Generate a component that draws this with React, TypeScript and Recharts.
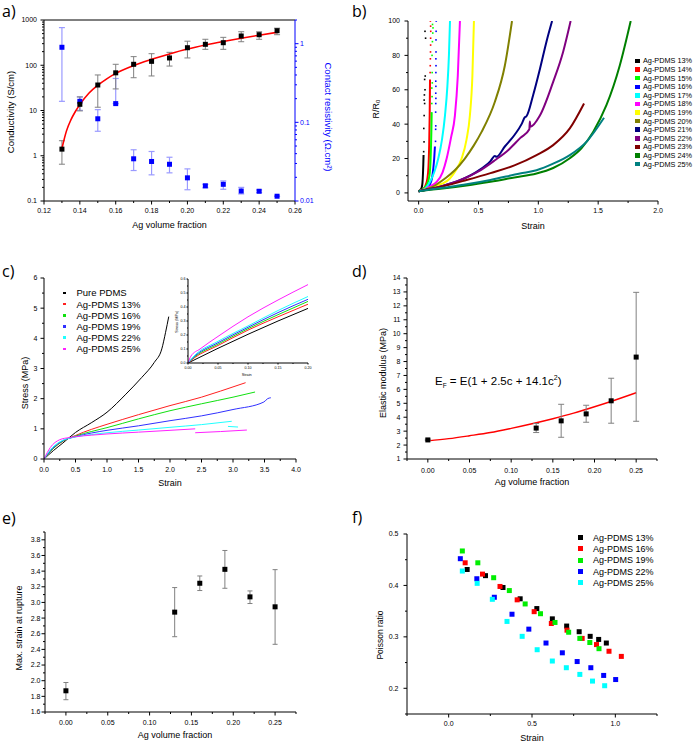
import React from 'react'
import { ComposedChart, LineChart, Line, Scatter, XAxis, YAxis, ErrorBar, ReferenceLine, Legend } from 'recharts'

const FONT = '"Liberation Sans", Arial, sans-serif'
const LETTER_FONT = '"Open Sans", "Liberation Sans", sans-serif'

// a) conductivity and contact resistivity vs Ag volume fraction
const aFraction = [0.13, 0.14, 0.15, 0.16, 0.17, 0.18, 0.19, 0.2, 0.21, 0.22, 0.23, 0.24, 0.25]
const aConductivity = [1.4, 13.7, 36.6, 68, 105, 122, 145, 244, 290, 315, 443, 473, 580]
const aCondLow = [0.65, 9.8, 11.8, 30, 53, 58, 96, 145, 225, 225, 331, 375, 473]
const aCondHigh = [2.15, 20, 61, 105, 155, 180, 193, 340, 375, 414, 550, 550, 660]
const aResistivity = [0.9, 0.185, 0.111, 0.173, 0.0344, 0.0318, 0.0293, 0.0197, 0.0156, 0.0163, 0.0134, 0.0133, 0.0115]
const aResLow = [0.185, 0.142, 0.077, 0.173, 0.0244, 0.0215, 0.0228, 0.0139, 0.0147, 0.0141, 0.0123, 0.0128, 0.0115]
const aResHigh = [1.6, 0.21, 0.145, 0.361, 0.0448, 0.0426, 0.036, 0.0256, 0.0163, 0.018, 0.0149, 0.0138, 0.0115]
const aFitFraction = [0.13, 0.1325, 0.135, 0.1375, 0.14, 0.145, 0.15, 0.155, 0.16, 0.17, 0.18, 0.19, 0.2, 0.21, 0.22, 0.23, 0.24, 0.25]
const aFitConductivity = [1.45, 3.5, 6.2, 9.5, 13.5, 24, 36, 50, 66, 99, 135, 178, 228, 280, 335, 395, 462, 535]

// b) R/R0 vs strain
const bLabels = ['Ag-PDMS 13%', 'Ag-PDMS 14%', 'Ag-PDMS 15%', 'Ag-PDMS 16%', 'Ag-PDMS 17%', 'Ag-PDMS 18%', 'Ag-PDMS 19%', 'Ag-PDMS 20%', 'Ag-PDMS 21%', 'Ag-PDMS 22%', 'Ag-PDMS 23%', 'Ag-PDMS 24%', 'Ag-PDMS 25%']
const bColors = ['#000000', '#ff0000', '#00ff00', '#0000ff', '#00ffff', '#ff00ff', '#ffff00', '#808000', '#000080', '#800080', '#800000', '#008000', '#008080']
const b13 = [[0, 1], [0.015, 1.8], [0.025, 3], [0.032, 6], [0.036, 11], [0.039, 17], [0.041, 22]]
const b14 = [[0, 1], [0.03, 2], [0.055, 4], [0.072, 8], [0.082, 15], [0.088, 28], [0.092, 45], [0.095, 66]]
const b15 = [[0, 1], [0.04, 2.5], [0.07, 5], [0.09, 10], [0.1, 20], [0.106, 35], [0.109, 47]]
const b16 = [[0, 1], [0.05, 2.2], [0.09, 4.5], [0.11, 8], [0.122, 14], [0.13, 20], [0.136, 27]]
const b17 = [[0, 1], [0.05, 2.3], [0.094, 6.4], [0.13, 12], [0.164, 20], [0.195, 31], [0.22, 45], [0.24, 62], [0.253, 80], [0.262, 100]]
const b18 = [[0, 1], [0.05, 2], [0.1, 4], [0.15, 6.4], [0.2, 12], [0.234, 20], [0.27, 32], [0.303, 45], [0.327, 68], [0.345, 100]]
const b19 = [[0, 1], [0.1, 3], [0.2, 5.5], [0.261, 8.4], [0.31, 13], [0.359, 20], [0.4, 31], [0.428, 45], [0.449, 68], [0.462, 100]]
const b20 = [[0, 1], [0.1, 3], [0.22, 8.4], [0.3, 13], [0.386, 20], [0.46, 27.5], [0.526, 35.5], [0.637, 53], [0.72, 74], [0.78, 100]]
const b21 = [[0, 1], [0.2, 4], [0.35, 7.5], [0.5, 13], [0.6, 18.5], [0.637, 21.5], [0.65, 21], [0.72, 27], [0.804, 34], [0.86, 40], [0.887, 44], [0.9, 44.5], [0.957, 57], [1.013, 72], [1.068, 88], [1.115, 100]]
const b22 = [[0, 1], [0.2, 4], [0.35, 7.5], [0.5, 12.5], [0.637, 19], [0.75, 25], [0.85, 32], [0.925, 37], [0.929, 41.5], [0.934, 38.5], [1.013, 45], [1.124, 64.6], [1.207, 82], [1.27, 100]]
const b23 = [[0, 1], [0.2, 3.8], [0.4, 7.5], [0.6, 11.5], [0.8, 16], [0.985, 22], [1.124, 27.8], [1.263, 37.5], [1.382, 52]]
const b24 = [[0, 1], [0.2, 2.5], [0.4, 4.3], [0.6, 6.5], [0.8, 9], [0.985, 11.3], [1.124, 14.5], [1.263, 20.2], [1.36, 26], [1.458, 35.5], [1.569, 51], [1.68, 74], [1.772, 100]]
const b25 = [[0, 1], [0.2, 3], [0.4, 5], [0.6, 7.5], [0.846, 11.3], [0.985, 13.2], [1.124, 17], [1.263, 22], [1.402, 29.7], [1.549, 43.7]]
const bCurves = [b13, b14, b15, b16, b17, b18, b19, b20, b21, b22, b23, b24, b25]
// scattered readings above the continuous part (13-16 %)
const bDots13 = [[0.042, 24], [0.045, 29.7], [0.043, 37.5], [0.046, 45], [0.05, 52], [0.046, 54], [0.048, 57], [0.053, 60], [0.05, 66], [0.055, 68], [0.058, 90], [0.053, 94]]
const bDots14 = [[0.096, 70], [0.097, 74], [0.098, 78], [0.099, 82], [0.1, 86], [0.1, 90], [0.101, 94], [0.1, 97], [0.098, 100]]
const bDots15 = [[0.11, 52], [0.112, 56], [0.11, 61], [0.114, 64], [0.113, 70], [0.112, 80], [0.115, 88], [0.118, 93], [0.12, 96], [0.116, 98]]
const bDots16 = [[0.141, 30], [0.142, 37], [0.143, 39], [0.142, 47], [0.143, 52], [0.144, 55], [0.143, 58], [0.144, 62], [0.143, 65], [0.144, 70], [0.145, 74], [0.144, 78], [0.145, 82], [0.145, 89], [0.146, 94], [0.147, 100]]
const bDots = [bDots13, bDots14, bDots15, bDots16]

// c) stress-strain
const cLabels = ['Pure PDMS', 'Ag-PDMS 13%', 'Ag-PDMS 16%', 'Ag-PDMS 19%', 'Ag-PDMS 22%', 'Ag-PDMS 25%']
const cColors = ['#000000', '#ff2020', '#10e010', '#3030ff', '#20ffff', '#ff20ff']
const cPure = [[0, 0], [0.15, 0.28], [0.3, 0.53], [0.5, 0.88], [0.75, 1.2], [1, 1.55], [1.3, 2.15], [1.55, 2.7], [1.75, 3.2], [1.87, 3.65], [1.93, 4.2], [1.98, 4.72]]
const c13 = [[0, 0], [0.1, 0.25], [0.25, 0.52], [0.5, 0.78], [0.75, 0.98], [1, 1.15], [1.5, 1.47], [2, 1.77], [2.5, 2.05], [2.8, 2.25], [3.2, 2.53]]
const c16 = [[0, 0], [0.1, 0.25], [0.25, 0.53], [0.5, 0.76], [0.75, 0.91], [1, 1.04], [1.5, 1.33], [2, 1.6], [2.5, 1.83], [3, 2.05], [3.35, 2.22]]
const c19 = [[0, 0], [0.1, 0.27], [0.25, 0.55], [0.5, 0.74], [0.75, 0.86], [1, 0.95], [1.5, 1.1], [2, 1.27], [2.5, 1.43], [3, 1.64], [3.49, 1.89], [3.55, 2], [3.6, 2.03]]
const c22 = [[0, 0], [0.1, 0.3], [0.25, 0.57], [0.5, 0.73], [0.75, 0.81], [1, 0.87], [1.5, 0.96], [2, 1.05], [2.5, 1.14], [2.98, 1.25]]
const c25 = [[0, 0], [0.1, 0.38], [0.25, 0.64], [0.4, 0.71], [0.5, 0.74], [0.75, 0.79], [1, 0.83], [1.5, 0.89], [2, 0.95], [2.4, 1.0]]
const c22Tail = [[2.92, 1.08], [3.08, 1.06]]
const c25Tail = [[2.4, 0.87], [2.8, 0.91], [3.22, 0.96]]
const cCurves = [cPure, c13, c16, c19, c22, c25]
// inset: initial region
const iPure = [[0, 0], [0.05, 0.105], [0.1, 0.205], [0.15, 0.3], [0.2, 0.39]]
const i13 = [[0, 0], [0.01, 0.035], [0.05, 0.125], [0.1, 0.235], [0.15, 0.33], [0.2, 0.42]]
const i16 = [[0, 0], [0.01, 0.04], [0.05, 0.135], [0.1, 0.245], [0.15, 0.345], [0.2, 0.44]]
const i19 = [[0, 0], [0.01, 0.045], [0.05, 0.145], [0.1, 0.255], [0.15, 0.36], [0.2, 0.455]]
const i22 = [[0, 0], [0.01, 0.05], [0.05, 0.155], [0.1, 0.265], [0.15, 0.375], [0.2, 0.475]]
const i25 = [[0, 0], [0.005, 0.05], [0.02, 0.1], [0.05, 0.19], [0.1, 0.33], [0.15, 0.45], [0.2, 0.56]]
const iCurves = [iPure, i13, i16, i19, i22, i25]

// d) elastic modulus
const dFraction = [0, 0.13, 0.16, 0.19, 0.22, 0.25]
const dModulus = [2.37, 3.22, 3.74, 4.24, 5.18, 8.32]
const dLow = [2.32, 2.9, 2.56, 3.64, 3.57, 3.71]
const dHigh = [2.42, 3.55, 4.93, 4.86, 6.8, 12.97]
const dFitFraction = [0, 0.025, 0.05, 0.075, 0.1, 0.125, 0.15, 0.175, 0.2, 0.225, 0.25]
const dFitModulus = [2.3, 2.46, 2.67, 2.9, 3.2, 3.53, 3.89, 4.29, 4.75, 5.24, 5.76]

// e) max strain at rupture
const eFraction = [0, 0.13, 0.16, 0.19, 0.22, 0.25]
const eStrain = [1.871, 2.876, 3.245, 3.423, 3.071, 2.944]
const eLow = [1.757, 2.562, 3.152, 3.181, 2.986, 2.465]
const eHigh = [1.977, 3.19, 3.338, 3.664, 3.147, 3.419]

// f) Poisson ratio vs strain
const fLabels = ['Ag-PDMS 13%', 'Ag-PDMS 16%', 'Ag-PDMS 19%', 'Ag-PDMS 22%', 'Ag-PDMS 25%']
const fColors = ['#000000', '#ff0000', '#00ee00', '#0000ff', '#00ffff']
const fStrain13 = [0.111, 0.221, 0.326, 0.429, 0.529, 0.622, 0.708, 0.783, 0.849, 0.9, 0.946]
const fRatio13 = [0.431, 0.419, 0.396, 0.374, 0.355, 0.335, 0.321, 0.31, 0.301, 0.295, 0.288]
const fStrain16 = [0.099, 0.203, 0.308, 0.411, 0.513, 0.616, 0.71, 0.801, 0.887, 0.962, 1.036]
const fRatio16 = [0.444, 0.422, 0.398, 0.372, 0.349, 0.326, 0.313, 0.297, 0.285, 0.272, 0.262]
const fStrain19 = [0.082, 0.175, 0.27, 0.364, 0.459, 0.551, 0.638, 0.72, 0.787, 0.847, 0.902]
const fRatio19 = [0.467, 0.444, 0.415, 0.39, 0.364, 0.345, 0.328, 0.309, 0.297, 0.289, 0.277]
const fStrain22 = [0.07, 0.169, 0.274, 0.38, 0.481, 0.584, 0.682, 0.771, 0.853, 0.93, 1.002]
const fRatio22 = [0.452, 0.413, 0.377, 0.344, 0.315, 0.288, 0.269, 0.252, 0.24, 0.225, 0.217]
const fStrain25 = [0.082, 0.171, 0.262, 0.35, 0.441, 0.531, 0.622, 0.706, 0.787, 0.863, 0.936]
const fRatio25 = [0.428, 0.404, 0.373, 0.33, 0.301, 0.275, 0.253, 0.24, 0.227, 0.214, 0.205]
const fStrains = [fStrain13, fStrain16, fStrain19, fStrain22, fStrain25]
const fRatios = [fRatio13, fRatio16, fRatio19, fRatio22, fRatio25]

// ---------- helpers ----------
const steps = (start: number, stop: number, step: number) =>
  Array.from({ length: Math.round((stop - start) / step) + 1 }, (_, i) => +(start + i * step).toFixed(6))

const logTicks = (lo: number, hi: number) => {
  const out: number[] = []
  for (let d = lo; d < hi * 0.999; d *= 10) for (let k = 1; k < 10; k++) out.push(+(d * k).toPrecision(3))
  out.push(hi)
  return out
}

const pairs = (c: number[][]) => c.map(([x, y]) => ({ x, y }))

type TickOpts = { len?: number; minorLen?: number; gap?: number; size?: number; color?: string }

function tickRenderer(side: 'left' | 'right' | 'bottom', major: number[], fmt: (v: number) => string, o: TickOpts = {}) {
  const len = o.len ?? 3.5
  const minorLen = o.minorLen ?? 2
  const gap = o.gap ?? 6
  const size = o.size ?? 7
  const color = o.color ?? '#000'
  return (p: any) => {
    const v = Number(p.payload?.value)
    const isMajor = major.some((m) => Math.abs(m - v) <= 1e-6 * Math.max(1e-3, Math.abs(m)))
    const l = isMajor ? len : minorLen
    if (side === 'bottom') {
      return (
        <g>
          <line x1={p.x} y1={p.y} x2={p.x} y2={p.y + l} stroke={color} />
          {isMajor && (
            <text x={p.x} y={p.y + gap + size * 0.35} textAnchor="middle" fontSize={size} fontFamily={FONT} fill={color}>
              {fmt(v)}
            </text>
          )}
        </g>
      )
    }
    const dir = side === 'left' ? -1 : 1
    return (
      <g>
        <line x1={p.x} y1={p.y} x2={p.x + dir * l} y2={p.y} stroke={color} />
        {isMajor && (
          <text x={p.x + dir * gap} y={p.y + size * 0.35} textAnchor={side === 'left' ? 'end' : 'start'} fontSize={size} fontFamily={FONT} fill={color}>
            {fmt(v)}
          </text>
        )}
      </g>
    )
  }
}

const title = (x: number, y: number, text: React.ReactNode, o: { angle?: number; color?: string; size?: number } = {}) => ({
  content: () => (
    <text
      x={x}
      y={y}
      transform={o.angle ? `rotate(${o.angle} ${x} ${y})` : undefined}
      textAnchor="middle"
      dominantBaseline="central"
      fontSize={o.size ?? 9}
      fontFamily={FONT}
      fill={o.color ?? '#000'}
    >
      {text}
    </text>
  ),
})

const square = (color: string, size: number) => (p: any) =>
  p.cx == null ? <g /> : <rect x={p.cx - size / 2} y={p.cy - size / 2} width={size} height={size} fill={color} />

const axisCommon = { tickSize: 0, tickMargin: 0, tickLine: false, interval: 0 as const, allowDataOverflow: true, axisLine: { stroke: '#000' } }

function Panel({ left, top, w, h, letter, letterTop, children }: any) {
  return (
    <div style={{ position: 'absolute', left, top, width: w, height: h }}>
      {children}
      <div style={{ position: 'absolute', left: 2, top: letterTop, fontFamily: LETTER_FONT, fontSize: 16, lineHeight: '20px', color: '#000' }}>{letter}</div>
    </div>
  )
}

function LegendBox({ labels, colors, marker, row, size, gap }: { labels: string[]; colors: string[]; marker: number; row: number; size: number; gap: number }) {
  return (
    <div style={{ fontFamily: FONT, fontSize: size, whiteSpace: 'nowrap', color: '#000' }}>
      {labels.map((lab, i) => (
        <div key={lab} style={{ display: 'flex', alignItems: 'center', height: row }}>
          <span style={{ display: 'inline-block', width: marker, height: marker, background: colors[i], marginRight: gap }} />
          <span>{lab}</span>
        </div>
      ))}
    </div>
  )
}

// ---------- panels ----------
function PanelA() {
  const cond = aFraction.map((x, i) => ({ x, y: aConductivity[i], err: [aConductivity[i] - aCondLow[i], aCondHigh[i] - aConductivity[i]] }))
  const res = aFraction.map((x, i) => ({ x, y: aResistivity[i], err: [aResistivity[i] - aResLow[i], aResHigh[i] - aResistivity[i]] }))
  const fit = aFitFraction.map((x, i) => ({ x, y: aFitConductivity[i] }))
  return (
    <ComposedChart width={350} height={245} margin={{ top: 20, right: 0, bottom: 15, left: 0 }}>
      <XAxis {...axisCommon} type="number" dataKey="x" domain={[0.12, 0.26]} ticks={steps(0.12, 0.26, 0.01)} height={29}
        tick={tickRenderer('bottom', steps(0.12, 0.26, 0.02), (v) => v.toFixed(2), { gap: 10 })}
        label={title(169.5, 225, 'Ag volume fraction')} />
      <YAxis {...axisCommon} yAxisId="l" type="number" scale="log" domain={[0.1, 1000]} ticks={logTicks(0.1, 1000)} width={44}
        tick={tickRenderer('left', [0.1, 1, 10, 100, 1000], (v) => String(v), { gap: 7 })}
        label={title(10, 112, 'Conductivity (S/cm)', { angle: -90, size: 9.5 })} />
      <YAxis {...axisCommon} yAxisId="r" orientation="right" type="number" scale="log" domain={[0.01, 2]} ticks={[...logTicks(0.01, 1), 2]} width={55}
        axisLine={{ stroke: '#0000ff' }}
        tick={tickRenderer('right', [0.01, 0.1, 1], (v) => String(v), { gap: 5, color: '#0000ff' })}
        label={title(328, 117, 'Contact resistivity (Ω.cm²)', { angle: 90, size: 9.5, color: '#0000ff' })} />
      <ReferenceLine yAxisId="l" y={1000} stroke="#000" />
      <Scatter yAxisId="r" data={res} dataKey="y" shape={square('#0000ff', 5)} isAnimationActive={false}>
        <ErrorBar dataKey="err" direction="y" width={3} stroke="#9a9aff" strokeWidth={1.2} />
      </Scatter>
      <Scatter yAxisId="l" data={cond} dataKey="y" shape={square('#000', 5)} isAnimationActive={false}>
        <ErrorBar dataKey="err" direction="y" width={3} stroke="#808080" strokeWidth={1} />
      </Scatter>
      <Line yAxisId="l" data={fit} dataKey="y" type="monotone" stroke="#ff0000" strokeWidth={1.6} dot={false} isAnimationActive={false} />
    </ComposedChart>
  )
}

function PanelB() {
  return (
    <ComposedChart width={348} height={245} margin={{ top: 21, right: 40, bottom: 14, left: 0 }}>
      <XAxis {...axisCommon} type="number" dataKey="x" domain={[-0.089, 2]} ticks={steps(0, 2, 0.25)} height={30}
        tick={tickRenderer('bottom', steps(0, 2, 0.5), (v) => v.toFixed(1), { gap: 10 })}
        label={title(183, 226, 'Strain')} />
      <YAxis {...axisCommon} type="number" domain={[-4.7, 100]} ticks={steps(0, 100, 10)} width={58}
        tick={tickRenderer('left', steps(0, 100, 20), (v) => String(v), { gap: 8 })}
        label={title(26, 109, <>R/R<tspan dy={2} fontSize={6}>0</tspan></>, { angle: -90 })} />
      {bCurves.map((c, i) => (
        <Line key={bLabels[i]} data={pairs(c)} dataKey="y" type="monotone" stroke={bColors[i]} strokeWidth={2} dot={false} isAnimationActive={false} />
      ))}
      {bDots.map((c, i) => (
        <Scatter key={'dots' + i} data={pairs(c)} dataKey="y" shape={square(bColors[i], 1.6)} isAnimationActive={false} />
      ))}
      <Legend layout="vertical" align="center" verticalAlign="middle" wrapperStyle={{ left: 285, top: 56.7, width: 63 }}
        content={() => <LegendBox labels={bLabels} colors={bColors} marker={4.5} row={8.6} size={7.3} gap={3.5} />} />
    </ComposedChart>
  )
}

function PanelC() {
  return (
    <>
      <ComposedChart width={350} height={245} margin={{ top: 28, right: 54, bottom: 9, left: 0 }}>
        <XAxis {...axisCommon} type="number" dataKey="x" domain={[0, 4]} ticks={steps(0, 4, 0.25)} height={27}
          tick={tickRenderer('bottom', steps(0, 4, 0.5), (v) => v.toFixed(1), { gap: 10.5 })}
          label={title(170, 232.5, 'Strain')} />
        <YAxis {...axisCommon} type="number" domain={[0, 6]} ticks={steps(0, 6, 0.5)} width={44}
          tick={tickRenderer('left', steps(0, 6, 1), (v) => String(v), { gap: 6.5 })}
          label={title(25, 133, 'Stress (MPa)', { angle: -90 })} />
        {cCurves.map((c, i) => (
          <Line key={cLabels[i]} data={pairs(c)} dataKey="y" type="monotone" stroke={cColors[i]} strokeWidth={1} dot={false} isAnimationActive={false} />
        ))}
        <Line data={pairs(c22Tail)} dataKey="y" type="linear" stroke={cColors[4]} strokeWidth={1} dot={false} isAnimationActive={false} />
        <Line data={pairs(c25Tail)} dataKey="y" type="monotone" stroke={cColors[5]} strokeWidth={1} dot={false} isAnimationActive={false} />
        <Legend layout="vertical" align="center" verticalAlign="middle" wrapperStyle={{ left: 63, top: 37.4, width: 110 }}
          content={() => <LegendBox labels={cLabels} colors={cColors} marker={2.5} row={11.2} size={9.5} gap={11} />} />
      </ComposedChart>
      <div style={{ position: 'absolute', left: 172, top: 25 }}>
        <LineChart width={140} height={105} margin={{ top: 4, right: 4, bottom: 5, left: 0 }}>
          <XAxis {...axisCommon} type="number" dataKey="x" domain={[0, 0.2]} ticks={steps(0, 0.2, 0.025)} height={12}
            tick={tickRenderer('bottom', steps(0, 0.2, 0.05), (v) => v.toFixed(2), { gap: 4.5, size: 3.6, len: 1.5, minorLen: 1 })}
            label={title(74.7, 100, 'Strain', { size: 3.8 })} />
          <YAxis {...axisCommon} type="number" domain={[0, 0.6]} ticks={steps(0, 0.6, 0.05)} width={16}
            tick={tickRenderer('left', steps(0, 0.6, 0.1), (v) => v.toFixed(1), { gap: 2.5, size: 3.6, len: 1.5, minorLen: 1 })}
            label={title(5, 46.7, 'Stress (MPa)', { angle: -90, size: 3.8 })} />
          {iCurves.map((c, i) => (
            <Line key={'inset' + i} data={pairs(c)} dataKey="y" type="monotone" stroke={cColors[i]} strokeWidth={1} dot={false} isAnimationActive={false} />
          ))}
        </LineChart>
      </div>
    </>
  )
}

function PanelD() {
  const pts = dFraction.map((x, i) => ({ x, y: dModulus[i], err: [dModulus[i] - dLow[i], dHigh[i] - dModulus[i]] }))
  const fit = dFitFraction.map((x, i) => ({ x, y: dFitModulus[i] }))
  return (
    <>
      <ComposedChart width={348} height={245} margin={{ top: 28, right: 41, bottom: 6, left: 0 }}>
        <XAxis {...axisCommon} type="number" dataKey="x" domain={[-0.025, 0.275]} ticks={steps(-0.025, 0.275, 0.025)} height={30}
          tick={tickRenderer('bottom', steps(0, 0.25, 0.05), (v) => v.toFixed(2), { gap: 12 })}
          label={title(182, 232, 'Ag volume fraction')} />
        <YAxis {...axisCommon} type="number" domain={[1, 14]} ticks={steps(1, 14, 0.5)} width={57}
          tick={tickRenderer('left', steps(1, 14, 1), (v) => String(v), { gap: 6.5 })}
          label={title(33, 123, 'Elastic modulus (MPa)', { angle: -90 })} />
        <Line data={fit} dataKey="y" type="monotone" stroke="#ff0000" strokeWidth={1.4} dot={false} isAnimationActive={false} />
        <Scatter data={pts} dataKey="y" shape={square('#000', 5)} isAnimationActive={false}>
          <ErrorBar dataKey="err" direction="y" width={3} stroke="#808080" strokeWidth={1} />
        </Scatter>
      </ComposedChart>
      <div style={{ position: 'absolute', left: 85, top: 120, fontFamily: FONT, fontSize: 11.5, lineHeight: '16px', whiteSpace: 'nowrap', color: '#000' }}>
        E<span style={{ fontSize: 6.5, verticalAlign: -3 }}>F</span> = E(1 + 2.5c + 14.1c<span style={{ fontSize: 7, verticalAlign: 5 }}>2</span>)
      </div>
    </>
  )
}

function PanelE() {
  const pts = eFraction.map((x, i) => ({ x, y: eStrain[i], err: [eStrain[i] - eLow[i], eHigh[i] - eStrain[i]] }))
  return (
    <ComposedChart width={350} height={248} margin={{ top: 37, right: 54, bottom: 6, left: 0 }}>
      <XAxis {...axisCommon} type="number" dataKey="x" domain={[-0.025, 0.275]} ticks={steps(-0.025, 0.275, 0.025)} height={25}
        tick={tickRenderer('bottom', steps(0, 0.25, 0.05), (v) => v.toFixed(2), { gap: 10.5 })}
        label={title(175, 240, 'Ag volume fraction')} />
      <YAxis {...axisCommon} type="number" domain={[1.6, 3.9]} ticks={steps(1.6, 3.9, 0.1)} width={45}
        tick={tickRenderer('left', steps(1.6, 3.8, 0.2), (v) => v.toFixed(1), { gap: 4.5 })}
        label={title(19, 133, 'Max. strain at rupture', { angle: -90 })} />
      <Scatter data={pts} dataKey="y" shape={square('#000', 5)} isAnimationActive={false}>
        <ErrorBar dataKey="err" direction="y" width={2.5} stroke="#808080" strokeWidth={1} />
      </Scatter>
    </ComposedChart>
  )
}

function PanelF() {
  return (
    <ComposedChart width={348} height={248} margin={{ top: 39, right: 41, bottom: 7, left: 0 }}>
      <XAxis {...axisCommon} type="number" dataKey="x" domain={[-0.25, 1.25]} ticks={steps(-0.25, 1.25, 0.25)} height={22}
        tick={tickRenderer('bottom', [0, 0.5, 1], (v) => v.toFixed(1), { gap: 10 })}
        label={title(182, 243, 'Strain')} />
      <YAxis {...axisCommon} type="number" domain={[0.15, 0.5]} ticks={steps(0.15, 0.5, 0.05)} width={57}
        tick={tickRenderer('left', [0.2, 0.3, 0.4, 0.5], (v) => v.toFixed(1), { gap: 8.5 })}
        label={title(30, 140, 'Poisson ratio', { angle: -90, size: 8.5 })} />
      {fStrains.map((xs, i) => (
        <Scatter key={fLabels[i]} data={xs.map((x, j) => ({ x, y: fRatios[i][j] }))} dataKey="y" shape={square(fColors[i], 5)} isAnimationActive={false} />
      ))}
      <Legend layout="vertical" align="center" verticalAlign="middle" wrapperStyle={{ left: 227.5, top: 37, width: 90 }}
        content={() => <LegendBox labels={fLabels} colors={fColors} marker={5} row={11.3} size={9} gap={10.5} />} />
    </ComposedChart>
  )
}

export default function App() {
  return (
    <div style={{ position: 'absolute', left: 0, top: 0, width: 698, height: 743, background: '#fff', overflow: 'hidden' }}>
      <Panel left={0} top={0} w={350} h={245} letter="a)" letterTop={1}><PanelA /></Panel>
      <Panel left={350} top={0} w={348} h={245} letter="b)" letterTop={1}><PanelB /></Panel>
      <Panel left={0} top={250} w={350} h={245} letter="c)" letterTop={10.5}><PanelC /></Panel>
      <Panel left={350} top={250} w={348} h={245} letter="d)" letterTop={10.5}><PanelD /></Panel>
      <Panel left={0} top={495} w={350} h={248} letter="e)" letterTop={13}><PanelE /></Panel>
      <Panel left={350} top={495} w={348} h={248} letter="f)" letterTop={12}><PanelF /></Panel>
    </div>
  )
}
